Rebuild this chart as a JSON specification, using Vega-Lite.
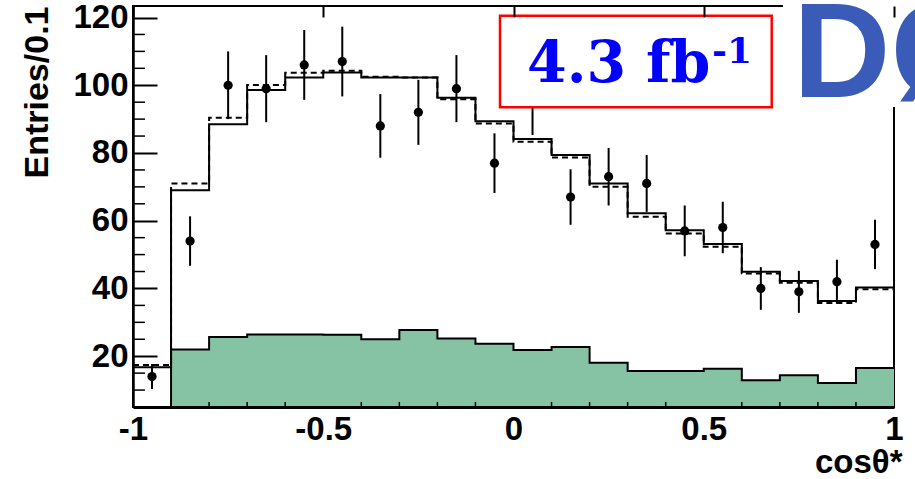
{
  "$schema": "https://vega.github.io/schema/vega-lite/v6.json",
  "width": 761,
  "height": 401,
  "autosize": {"type": "none"},
  "padding": {"left": 133, "top": 6, "right": 21, "bottom": 72},
  "background": "white",
  "config": {
    "view": {"stroke": "black", "strokeWidth": 2},
    "axis": {"tickColor": "black", "domainColor": "black", "labelColor": "black", "titleColor": "black", "labelFlush": false, "labelOverlap": false}
  },
  "datasets": {
    "one": [{"k": 1}],
    "mc": [
      {"x": -1.0, "mc": 16.7, "mcd": 17.4},
      {"x": -0.9, "mc": 69.0, "mcd": 71.0},
      {"x": -0.8, "mc": 88.5, "mcd": 90.4},
      {"x": -0.7, "mc": 98.6, "mcd": 100.1},
      {"x": -0.6, "mc": 102.3, "mcd": 103.7},
      {"x": -0.5, "mc": 103.8, "mcd": 104.3},
      {"x": -0.4, "mc": 102.3, "mcd": 102.5},
      {"x": -0.3, "mc": 102.3, "mcd": 102.3},
      {"x": -0.2, "mc": 96.3, "mcd": 95.9},
      {"x": -0.1, "mc": 89.4, "mcd": 88.7},
      {"x": 0.0, "mc": 84.1, "mcd": 83.3},
      {"x": 0.1, "mc": 79.4, "mcd": 78.7},
      {"x": 0.2, "mc": 71.0, "mcd": 70.0},
      {"x": 0.3, "mc": 62.2, "mcd": 61.2},
      {"x": 0.4, "mc": 57.2, "mcd": 56.2},
      {"x": 0.5, "mc": 53.1, "mcd": 52.3},
      {"x": 0.6, "mc": 44.9, "mcd": 44.4},
      {"x": 0.7, "mc": 42.2, "mcd": 41.7},
      {"x": 0.8, "mc": 36.3, "mcd": 35.7},
      {"x": 0.9, "mc": 40.3, "mcd": 39.8},
      {"x": 1.0, "mc": 40.3, "mcd": 39.8}
    ],
    "bg": [
      {"x": -1.0, "bg": 5.0},
      {"x": -0.9, "bg": 22.0},
      {"x": -0.8, "bg": 25.7},
      {"x": -0.7, "bg": 26.4},
      {"x": -0.6, "bg": 26.4},
      {"x": -0.5, "bg": 26.3},
      {"x": -0.4, "bg": 25.0},
      {"x": -0.3, "bg": 27.7},
      {"x": -0.2, "bg": 25.2},
      {"x": -0.1, "bg": 23.7},
      {"x": 0.0, "bg": 21.8},
      {"x": 0.1, "bg": 22.7},
      {"x": 0.2, "bg": 18.1},
      {"x": 0.3, "bg": 15.6},
      {"x": 0.4, "bg": 15.6},
      {"x": 0.5, "bg": 16.3},
      {"x": 0.6, "bg": 12.9},
      {"x": 0.7, "bg": 14.4},
      {"x": 0.8, "bg": 12.1},
      {"x": 0.9, "bg": 16.5},
      {"x": 1.0, "bg": 16.5}
    ],
    "pts": [
      {"x": -0.95, "n": 14, "lo": 10.3, "hi": 17.7},
      {"x": -0.85, "n": 54, "lo": 46.7, "hi": 61.3},
      {"x": -0.75, "n": 100, "lo": 90.0, "hi": 110.0},
      {"x": -0.65, "n": 99, "lo": 89.1, "hi": 108.9},
      {"x": -0.55, "n": 106, "lo": 95.7, "hi": 116.3},
      {"x": -0.45, "n": 107, "lo": 96.7, "hi": 117.3},
      {"x": -0.35, "n": 88, "lo": 78.6, "hi": 97.4},
      {"x": -0.25, "n": 92, "lo": 82.4, "hi": 101.6},
      {"x": -0.15, "n": 99, "lo": 89.1, "hi": 108.9},
      {"x": -0.05, "n": 77, "lo": 68.2, "hi": 85.8},
      {"x": 0.05, "n": 95, "lo": 85.3, "hi": 104.7},
      {"x": 0.15, "n": 67, "lo": 58.8, "hi": 75.2},
      {"x": 0.25, "n": 73, "lo": 64.5, "hi": 81.5},
      {"x": 0.35, "n": 71, "lo": 62.6, "hi": 79.4},
      {"x": 0.45, "n": 57, "lo": 49.5, "hi": 64.5},
      {"x": 0.55, "n": 58, "lo": 50.4, "hi": 65.6},
      {"x": 0.65, "n": 40, "lo": 33.7, "hi": 46.3},
      {"x": 0.75, "n": 39, "lo": 32.8, "hi": 45.2},
      {"x": 0.85, "n": 42, "lo": 35.5, "hi": 48.5},
      {"x": 0.95, "n": 53, "lo": 45.7, "hi": 60.3}
    ]
  },
  "layer": [
    {
      "data": {"name": "bg"},
      "mark": {"type": "area", "interpolate": "step-after", "color": "#86c2a4"},
      "encoding": {
        "x": {"field": "x", "type": "quantitative", "scale": {"domain": [-1, 1], "nice": false, "zero": false},
          "axis": {"orient": "bottom", "values": [-1, -0.5, 0, 0.5, 1], "ticks": false, "domain": true, "domainWidth": 3,
            "grid": true, "gridColor": "black", "gridOpacity": 1, "gridWidth": 2, "gridDash": [11, 2000], "zindex": 1,
            "labelFont": "Liberation Sans", "labelFontWeight": "bold", "labelFontSize": 33, "labelPadding": 6,
            "labelExpr": "datum.value < 0 ? '-' + abs(datum.value) : '' + datum.value",
            "title": "cosθ*", "titleFont": "Liberation Sans", "titleFontWeight": "bold", "titleFontSize": 33,
            "titleAnchor": "end", "titleAlign": "right", "titleX": 769, "titlePadding": 0}},
        "y": {"field": "bg", "type": "quantitative", "scale": {"domain": [5, 123.4], "nice": false, "zero": false},
          "axis": {"orient": "left", "values": [20, 40, 60, 80, 100, 120], "ticks": false, "domain": true, "domainWidth": 2.5,
            "grid": true, "gridColor": "black", "gridOpacity": 1, "gridWidth": 2, "gridDash": [24, 2000], "zindex": 1,
            "labelFont": "Liberation Sans", "labelFontWeight": "bold", "labelFontSize": 33, "labelPadding": 5,
            "title": "Entries/0.1", "titleFont": "Liberation Sans", "titleFontWeight": "bold", "titleFontSize": 34,
            "titleAnchor": "end", "titlePadding": 18}},
        "y2": {"datum": 5}
      }
    },
    {
      "data": {"name": "bg"},
      "mark": {"type": "line", "interpolate": "step-after", "color": "black", "strokeWidth": 2},
      "encoding": {
        "x": {"field": "x", "type": "quantitative"},
        "y": {"field": "bg", "type": "quantitative"}
      }
    },
    {
      "data": {"name": "mc"},
      "mark": {"type": "line", "interpolate": "step-after", "color": "black", "strokeWidth": 2},
      "encoding": {
        "x": {"field": "x", "type": "quantitative"},
        "y": {"field": "mc", "type": "quantitative"}
      }
    },
    {
      "data": {"name": "mc"},
      "mark": {"type": "line", "interpolate": "step-after", "color": "black", "strokeWidth": 2, "strokeDash": [6, 4]},
      "encoding": {
        "x": {"field": "x", "type": "quantitative"},
        "y": {"field": "mcd", "type": "quantitative"}
      }
    },
    {
      "data": {"values": [{"tv": 10}, {"tv": 15}, {"tv": 25}, {"tv": 30}, {"tv": 35}, {"tv": 45}, {"tv": 50}, {"tv": 55}, {"tv": 65}, {"tv": 70}, {"tv": 75}, {"tv": 85}, {"tv": 90}, {"tv": 95}, {"tv": 105}, {"tv": 110}, {"tv": 115}]},
      "mark": {"type": "rule", "color": "black", "strokeWidth": 1.5},
      "encoding": {
        "x": {"datum": -1, "type": "quantitative"},
        "x2": {"datum": -0.9685},
        "y": {"field": "tv", "type": "quantitative"}
      }
    },
    {
      "data": {"values": [{"tu": -0.9}, {"tu": -0.8}, {"tu": -0.7}, {"tu": -0.6}, {"tu": -0.4}, {"tu": -0.3}, {"tu": -0.2}, {"tu": -0.1}, {"tu": 0.1}, {"tu": 0.2}, {"tu": 0.3}, {"tu": 0.4}, {"tu": 0.6}, {"tu": 0.7}, {"tu": 0.8}, {"tu": 0.9}]},
      "mark": {"type": "rule", "color": "black", "strokeWidth": 1.5},
      "encoding": {
        "x": {"field": "tu", "type": "quantitative"},
        "y": {"datum": 5, "type": "quantitative"},
        "y2": {"datum": 6.5}
      }
    },
    {
      "data": {"name": "pts"},
      "mark": {"type": "rule", "color": "black", "strokeWidth": 2},
      "encoding": {
        "x": {"field": "x", "type": "quantitative"},
        "y": {"field": "lo", "type": "quantitative"},
        "y2": {"field": "hi"}
      }
    },
    {
      "data": {"name": "pts"},
      "mark": {"type": "circle", "color": "black", "opacity": 1, "size": 85},
      "encoding": {
        "x": {"field": "x", "type": "quantitative"},
        "y": {"field": "n", "type": "quantitative"}
      }
    },
    {
      "data": {"name": "one"},
      "mark": {"type": "rect", "fill": "white", "stroke": "#ff0000", "strokeWidth": 2.5},
      "encoding": {
        "x": {"datum": -0.0355, "type": "quantitative"},
        "x2": {"datum": 0.6786},
        "y": {"datum": 93.47, "type": "quantitative"},
        "y2": {"datum": 120.53}
      }
    },
    {
      "data": {"name": "one"},
      "mark": {"type": "text", "text": "4.3 fb", "font": "DejaVu Serif", "fontWeight": "bold", "fontSize": 57, "color": "#0000ff", "align": "left", "baseline": "alphabetic"},
      "encoding": {
        "x": {"datum": 0.0355, "type": "quantitative"},
        "y": {"datum": 101.0, "type": "quantitative"}
      }
    },
    {
      "data": {"name": "one"},
      "mark": {"type": "text", "text": "-1", "font": "DejaVu Serif", "fontWeight": "bold", "fontSize": 36, "color": "#0000ff", "align": "left", "baseline": "alphabetic"},
      "encoding": {
        "x": {"datum": 0.5217, "type": "quantitative"},
        "y": {"datum": 106.56, "type": "quantitative"}
      }
    },
    {
      "data": {"name": "one"},
      "mark": {"type": "rect", "fill": "white", "stroke": null},
      "encoding": {
        "x": {"datum": 0.708, "type": "quantitative"},
        "x2": {"datum": 1.06},
        "y": {"datum": 93.6, "type": "quantitative"},
        "y2": {"datum": 126}
      }
    },
    {
      "data": {"name": "one"},
      "mark": {"type": "text", "text": "DØ", "font": "Liberation Sans", "fontWeight": "bold", "fontSize": 135, "color": "#3a5cb8", "align": "left", "baseline": "alphabetic"},
      "encoding": {
        "x": {"datum": 0.7346, "type": "quantitative"},
        "y": {"datum": 96.5, "type": "quantitative"}
      }
    }
  ]
}
